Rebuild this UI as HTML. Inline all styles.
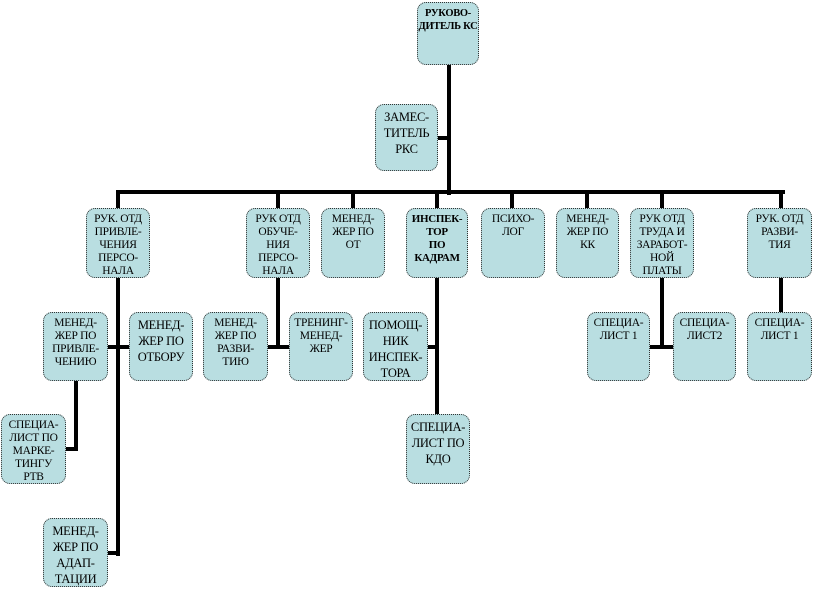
<!DOCTYPE html>
<html><head><meta charset="utf-8"><style>
body{margin:0;width:814px;height:590px;background:#fff;position:relative;overflow:hidden;font-family:"Liberation Serif","DejaVu Serif",serif;}
.b{position:absolute;box-sizing:border-box;background:#b9dee1;border:1.5px dotted #333;border-radius:9px;text-align:center;font-size:11.5px;line-height:13px;padding-top:4px;color:#000;letter-spacing:-0.3px}
.l{position:absolute;background:#000}
.bold{font-weight:bold;font-size:10.5px}
</style></head><body>
<!-- lines -->
<div class="l" style="left:447px;top:64px;width:4px;height:131px"></div>
<div class="l" style="left:438px;top:136px;width:10px;height:4px"></div>
<div class="l" style="left:116px;top:190px;width:669px;height:4px"></div>
<div class="l" style="left:116px;top:190px;width:4px;height:20px"></div>
<div class="l" style="left:276px;top:190px;width:4px;height:20px"></div>
<div class="l" style="left:351px;top:190px;width:4px;height:20px"></div>
<div class="l" style="left:435px;top:190px;width:4px;height:20px"></div>
<div class="l" style="left:510px;top:190px;width:4px;height:20px"></div>
<div class="l" style="left:585px;top:190px;width:4px;height:20px"></div>
<div class="l" style="left:660px;top:190px;width:4px;height:20px"></div>
<div class="l" style="left:779px;top:190px;width:4px;height:20px"></div>
<!-- box1 subtree -->
<div class="l" style="left:116px;top:277px;width:4px;height:279px"></div>
<div class="l" style="left:107px;top:345px;width:23px;height:4px"></div>
<div class="l" style="left:74px;top:380px;width:4px;height:71px"></div>
<div class="l" style="left:65px;top:447px;width:13px;height:4px"></div>
<div class="l" style="left:107px;top:551px;width:13px;height:4px"></div>
<!-- box2 -->
<div class="l" style="left:276px;top:277px;width:4px;height:72px"></div>
<div class="l" style="left:268px;top:345px;width:22px;height:4px"></div>
<!-- box4 -->
<div class="l" style="left:435px;top:277px;width:4px;height:138px"></div>
<div class="l" style="left:428px;top:345px;width:10px;height:4px"></div>
<!-- box7 -->
<div class="l" style="left:660px;top:277px;width:4px;height:72px"></div>
<div class="l" style="left:650px;top:345px;width:24px;height:4px"></div>
<!-- box8 -->
<div class="l" style="left:779px;top:277px;width:4px;height:36px"></div>

<!-- boxes -->
<div class="b bold" style="left:417px;top:2px;width:62px;height:63px">РУКОВО-<br>ДИТЕЛЬ КС</div>
<div class="b" style="left:375px;top:104px;width:63px;height:67px;font-size:12.5px;line-height:16px">ЗАМЕС-<br>ТИТЕЛЬ<br>РКС</div>

<div class="b" style="left:86px;top:208px;width:64px;height:70px">РУК. ОТД<br>ПРИВЛЕ-<br>ЧЕНИЯ<br>ПЕРСО-<br>НАЛА</div>
<div class="b" style="left:246px;top:208px;width:64px;height:70px">РУК ОТД<br>ОБУЧЕ-<br>НИЯ<br>ПЕРСО-<br>НАЛА</div>
<div class="b" style="left:321px;top:208px;width:64px;height:70px">МЕНЕД-<br>ЖЕР ПО<br>ОТ</div>
<div class="b bold" style="left:406px;top:208px;width:62px;height:70px;font-size:11px">ИНСПЕК-<br>ТОР<br>ПО<br>КАДРАМ</div>
<div class="b" style="left:481px;top:208px;width:64px;height:70px">ПСИХО-<br>ЛОГ</div>
<div class="b" style="left:556px;top:208px;width:63px;height:70px">МЕНЕД-<br>ЖЕР ПО<br>КК</div>
<div class="b" style="left:630px;top:208px;width:64px;height:70px">РУК ОТД<br>ТРУДА И<br>ЗАРАБОТ-<br>НОЙ<br>ПЛАТЫ</div>
<div class="b" style="left:747px;top:208px;width:65px;height:70px">РУК. ОТД<br>РАЗВИ-<br>ТИЯ</div>

<div class="b" style="left:43px;top:312px;width:65px;height:69px">МЕНЕД-<br>ЖЕР ПО<br>ПРИВЛЕ-<br>ЧЕНИЮ</div>
<div class="b" style="left:129px;top:312px;width:64px;height:69px;font-size:12.5px;line-height:16px">МЕНЕД-<br>ЖЕР ПО<br>ОТБОРУ</div>
<div class="b" style="left:203px;top:312px;width:65px;height:69px">МЕНЕД-<br>ЖЕР ПО<br>РАЗВИ-<br>ТИЮ</div>
<div class="b" style="left:289px;top:312px;width:64px;height:69px">ТРЕНИНГ-<br>МЕНЕД-<br>ЖЕР</div>
<div class="b" style="left:363px;top:312px;width:65px;height:69px;font-size:12.5px;line-height:16px">ПОМОЩ-<br>НИК<br>ИНСПЕК-<br>ТОРА</div>
<div class="b" style="left:587px;top:312px;width:63px;height:69px">СПЕЦИА-<br>ЛИСТ 1</div>
<div class="b" style="left:673px;top:312px;width:63px;height:69px">СПЕЦИА-<br>ЛИСТ2</div>
<div class="b" style="left:747px;top:312px;width:65px;height:69px">СПЕЦИА-<br>ЛИСТ 1</div>

<div class="b" style="left:1px;top:414px;width:65px;height:70px">СПЕЦИА-<br>ЛИСТ ПО<br>МАРКЕ-<br>ТИНГУ<br>РТВ</div>
<div class="b" style="left:406px;top:414px;width:64px;height:70px;font-size:12.5px;line-height:16px">СПЕЦИА-<br>ЛИСТ ПО<br>КДО</div>
<div class="b" style="left:43px;top:518px;width:65px;height:69px;font-size:12.5px;line-height:16px">МЕНЕД-<br>ЖЕР ПО<br>АДАП-<br>ТАЦИИ</div>
</body></html>
